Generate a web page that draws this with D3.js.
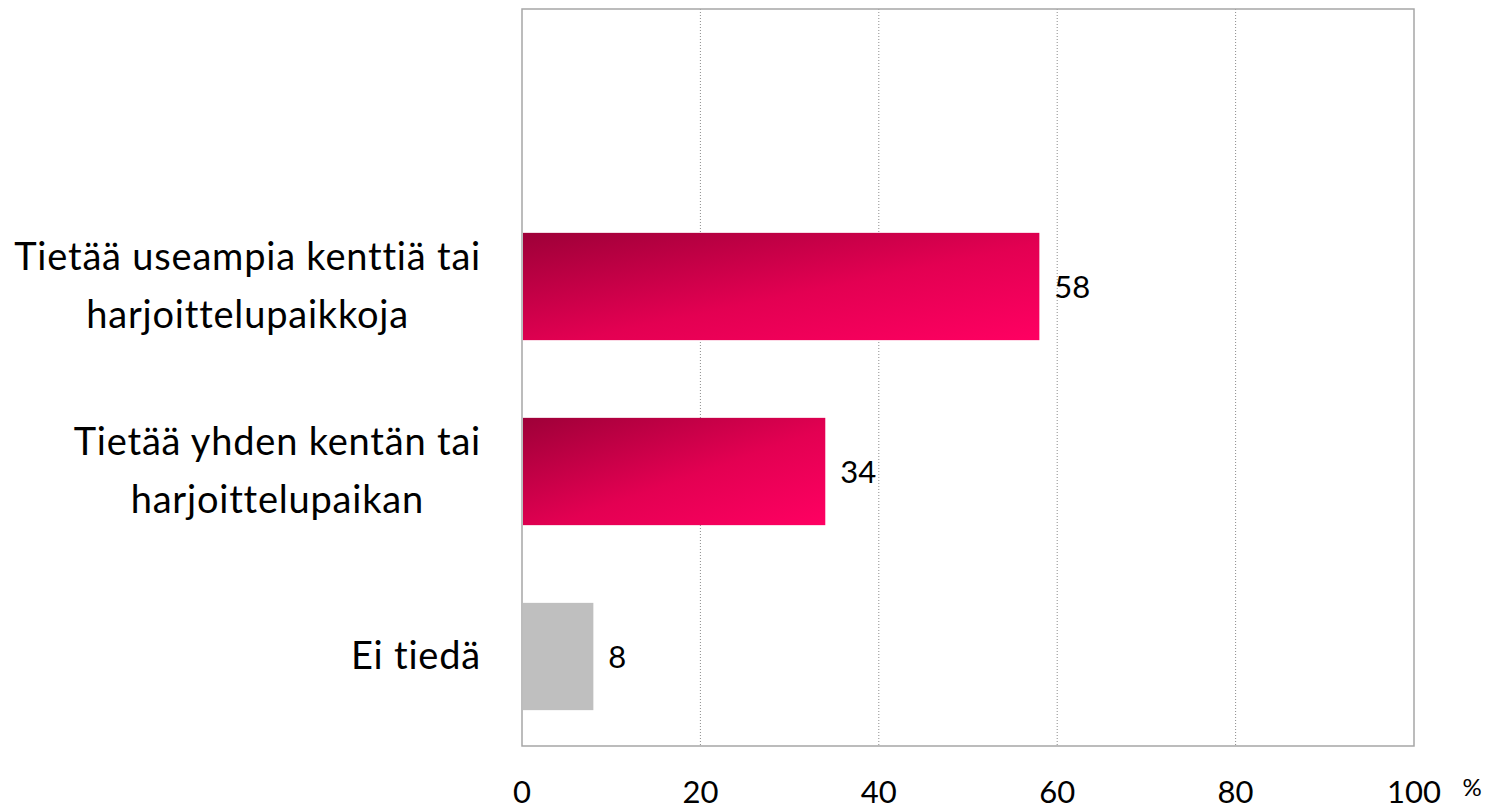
<!DOCTYPE html>
<html>
<head>
<meta charset="utf-8">
<script src="https://cdn.jsdelivr.net/npm/d3@7"></script>
<style>
  body { margin: 0; background: #fff; }
  svg { display: block; font-family: Lato, "Open Sans", sans-serif; }
</style>
</head>
<body>
<svg width="1495" height="811"></svg>
<script>
// Data
const categories = ["", "Tietää useampia kenttiä tai|harjoittelupaikkoja", "Tietää yhden kentän tai|harjoittelupaikan", "Ei tiedä"];
const values = [null, 58, 34, 8];
const fills = [null, "url(#pink)", "url(#pink)", "#bfbfbf"];
const xTicks = [0, 20, 40, 60, 80, 100];

const svg = d3.select("svg");
const plotLeft = 522, plotRight = 1414, plotTop = 9, plotBottom = 746;

const x = d3.scaleLinear().domain([0, 100]).range([plotLeft, plotRight]);
const y = d3.scaleBand().domain(categories).range([plotTop, plotTop + 740]).paddingInner(0.42).paddingOuter(0.21);

// Gradient for bars
const grad = svg.append("defs").append("linearGradient")
    .attr("id", "pink")
    .attr("x1", 0).attr("y1", 0).attr("x2", 1).attr("y2", 1);
grad.append("stop").attr("offset", "0%").attr("stop-color", "#9e0038");
grad.append("stop").attr("offset", "55%").attr("stop-color", "#e30052");
grad.append("stop").attr("offset", "100%").attr("stop-color", "#ff0062");

// Gridlines
svg.append("g")
    .selectAll("line")
    .data(xTicks.slice(1, -1))
    .join("line")
    .attr("x1", d => x(d)).attr("x2", d => x(d))
    .attr("y1", plotTop).attr("y2", plotBottom)
    .attr("stroke", "#8c8c8c")
    .attr("stroke-width", 1)
    .attr("stroke-dasharray", "1,2");

// Plot border
svg.append("rect")
    .attr("x", plotLeft).attr("y", plotTop)
    .attr("width", plotRight - plotLeft).attr("height", plotBottom - plotTop)
    .attr("fill", "none")
    .attr("stroke", "#a6a6a6")
    .attr("stroke-width", 1.5);

// Bars
const rows = categories.map((c, i) => ({ c, v: values[i], fill: fills[i] })).filter(d => d.v != null);

svg.append("g")
    .selectAll("rect")
    .data(rows)
    .join("rect")
    .attr("x", x(0) + 1)
    .attr("y", d => y(d.c))
    .attr("width", d => x(d.v) - x(0) - 1)
    .attr("height", y.bandwidth())
    .attr("fill", d => d.fill);

// Value labels
svg.append("g")
    .selectAll("text")
    .data(rows)
    .join("text")
    .attr("x", d => x(d.v) + 15)
    .attr("y", d => y(d.c) + y.bandwidth() / 2 + 11)
    .attr("font-size", 31)
    .text(d => d.v);

// Category labels, lines centred on each other, block right-aligned
const labelRight = 481;
const lineH = 58;
rows.forEach(d => {
    const lines = d.c.split("|");
    const g = svg.append("g");
    const texts = lines.map((l, i) => g.append("text")
        .attr("font-size", 38)
        .attr("letter-spacing", 0.8)
        .attr("text-anchor", "middle")
        .attr("y", y(d.c) + y.bandwidth() / 2 + (i - (lines.length - 1) / 2) * lineH + 12)
        .text(l));
    const maxW = d3.max(texts, t => t.node().getComputedTextLength());
    texts.forEach(t => t.attr("x", labelRight - maxW / 2));
});

// X axis tick labels
svg.append("g")
    .selectAll("text")
    .data(xTicks)
    .join("text")
    .attr("x", d => x(d))
    .attr("y", 803)
    .attr("text-anchor", "middle")
    .attr("font-size", 31)
    .text(d => d);

svg.append("text")
    .attr("x", 1472).attr("y", 796)
    .attr("text-anchor", "middle")
    .attr("font-size", 24)
    .text("%");
</script>
</body>
</html>
